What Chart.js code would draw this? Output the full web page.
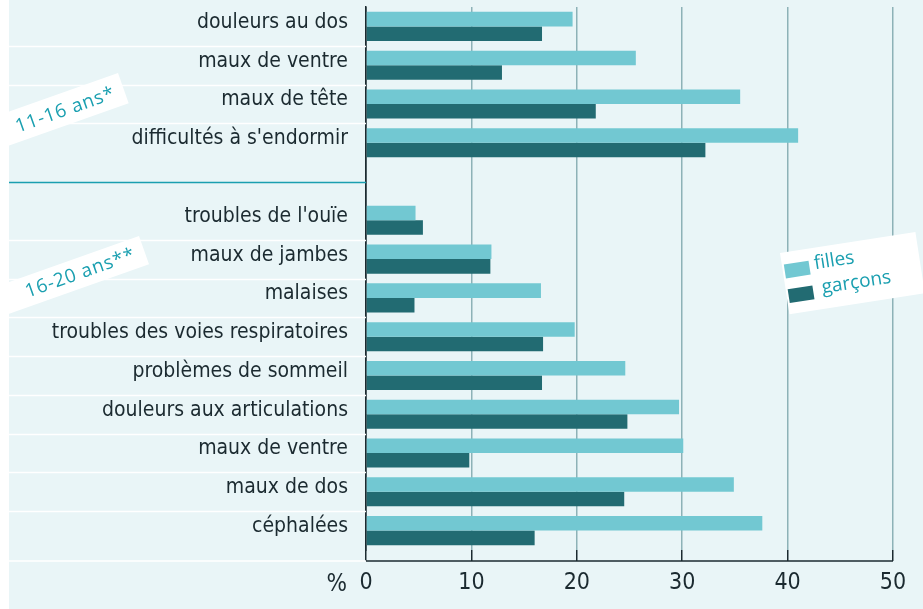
<!DOCTYPE html>
<html lang="fr">
<head>
<meta charset="utf-8">
<script src="https://cdn.jsdelivr.net/npm/chart.js@4/dist/chart.umd.min.js"></script>
<style>
  html, body { margin: 0; padding: 0; background: #fff; }
</style>
</head>
<body>
<canvas id="chart" width="923" height="609"></canvas>
<script>
// catégories de haut en bas ('' = espace entre les deux groupes d'âge)
const categories = [
  'douleurs au dos', 'maux de ventre', 'maux de tête', "difficultés à s'endormir",
  '',
  "troubles de l'ouïe", 'maux de jambes', 'malaises', 'troubles des voies respiratoires',
  'problèmes de sommeil', 'douleurs aux articulations', 'maux de ventre', 'maux de dos', 'céphalées'
];
const filles  = [19.6, 25.6, 35.5, 41.0, null, 4.7, 11.9, 16.6, 19.8, 24.6, 29.7, 30.1, 34.9, 37.6];
const garcons = [16.7, 12.9, 21.8, 32.2, null, 5.4, 11.8, 4.6, 16.8, 16.7, 24.8, 9.8, 24.5, 16.0];
const seriesLabels = ['filles', 'garçons'];
const xTicks = [0, 10, 20, 30, 40, 50];
const groupLabels = ['11-16 ans*', '16-20 ans**'];
const unitLabel = '%';

const BG = '#e9f5f7';
const DARK = '#1b2a30';
const TEAL = '#1a9fb0';
const LABEL_FONT = "'DejaVu Sans Condensed', 'DejaVu Sans', sans-serif";
const AXIS_DROP = 11;

// fond bleuté + lignes de séparation dans la zone des libellés
const decor = {
  id: 'decor',
  beforeDraw(chart) {
    const ctx = chart.ctx;
    ctx.save();
    ctx.fillStyle = BG;
    ctx.fillRect(9, 0, chart.width - 9, chart.height);
    ctx.restore();
  },
  afterDraw(chart) {
    const ctx = chart.ctx;
    const y = chart.scales.y, x = chart.scales.x;
    const area = chart.chartArea;
    const axisY = area.bottom + AXIS_DROP;
    ctx.save();

    // lignes blanches entre les catégories
    ctx.strokeStyle = '#ffffff';
    ctx.lineWidth = 1.5;
    for (let i = 0; i < categories.length - 1; i++) {
      if (!categories[i] || !categories[i + 1]) continue;
      const py = Math.round((y.getPixelForValue(i) + y.getPixelForValue(i + 1)) / 2) + 0.5;
      ctx.beginPath(); ctx.moveTo(9, py); ctx.lineTo(area.left, py); ctx.stroke();
    }
    ctx.beginPath(); ctx.moveTo(9, axisY); ctx.lineTo(area.left, axisY); ctx.stroke();

    // séparation des groupes d'âge
    const gap = categories.indexOf('');
    const gy = Math.round(y.getPixelForValue(gap)) + 0.5;
    ctx.strokeStyle = TEAL;
    ctx.beginPath(); ctx.moveTo(9, gy); ctx.lineTo(area.left, gy); ctx.stroke();

    // axe horizontal
    ctx.strokeStyle = DARK;
    ctx.lineWidth = 1.5;
    ctx.beginPath();
    ctx.moveTo(area.left, axisY);
    ctx.lineTo(x.getPixelForValue(xTicks[xTicks.length - 1]), axisY);
    ctx.stroke();

    // unité
    ctx.fillStyle = DARK;
    ctx.font = '24px ' + LABEL_FONT;
    ctx.textAlign = 'right';
    ctx.textBaseline = 'middle';
    ctx.fillText(unitLabel, area.left - 19, axisY + 24);

    // étiquettes des groupes, inclinées
    const tags = [
      { cx: 118, cy: 73, h: 32, ang: -19.5 },
      { cx: 139, cy: 236, h: 30, ang: -19.5 }
    ];
    groupLabels.forEach((txt, i) => {
      const t = tags[i];
      ctx.save();
      ctx.translate(t.cx, t.cy);
      ctx.rotate(t.ang * Math.PI / 180);
      ctx.fillStyle = '#ffffff';
      ctx.fillRect(-170, 0, 170, t.h);
      ctx.fillStyle = TEAL;
      ctx.font = "500 19px 'Open Sans', sans-serif";
      ctx.letterSpacing = '0.8px';
      ctx.textAlign = 'right';
      ctx.textBaseline = 'alphabetic';
      ctx.fillText(txt, -10, t.h - 9);
      ctx.restore();
    });

    // légende inclinée
    ctx.save();
    ctx.translate(780, 253);
    ctx.rotate(-8.8 * Math.PI / 180);
    ctx.fillStyle = '#ffffff';
    ctx.fillRect(0, 0, 137, 62);
    chart.data.datasets.forEach((ds, i) => {
      const sy = 12 + i * 25;
      ctx.fillStyle = ds.backgroundColor;
      ctx.fillRect(2, sy, 25, 14);
      ctx.fillStyle = TEAL;
      ctx.font = "19px 'Open Sans', sans-serif";
      ctx.textAlign = 'left';
      ctx.textBaseline = 'middle';
      ctx.fillText(ds.label, 32 + i * 4, sy + 4);
    });
    ctx.restore();

    ctx.restore();
  }
};

new Chart(document.getElementById('chart'), {
  type: 'bar',
  data: {
    labels: categories,
    datasets: [
      { label: seriesLabels[0], data: filles, backgroundColor: '#72c8d2' },
      { label: seriesLabels[1], data: garcons, backgroundColor: '#226b72' }
    ]
  },
  options: {
    indexAxis: 'y',
    responsive: false,
    animation: false,
    devicePixelRatio: 1,
    layout: { padding: { top: 7, right: 30, left: 0, bottom: 0 } },
    datasets: { bar: { categoryPercentage: 0.75, barPercentage: 1.0 } },
    plugins: { legend: { display: false }, tooltip: { enabled: false } },
    scales: {
      x: {
        min: 0,
        max: 50,
        afterBuildTicks: s => { s.ticks = xTicks.map(v => ({ value: v })); },
        afterFit: s => { s.height = 59; s.paddingLeft = 0; s.paddingRight = 0; },
        grid: {
          color: c => (c.tick && c.tick.value === 0 ? DARK : '#8db2b7'),
          lineWidth: 1.5,
          tickColor: DARK,
          tickLength: AXIS_DROP
        },
        border: { display: false },
        ticks: { color: DARK, font: { family: LABEL_FONT, size: 23 }, padding: 8, maxRotation: 0 }
      },
      y: {
        afterFit: s => { s.width = 366; s.paddingTop = 0; s.paddingBottom = 0; },
        grid: { display: false, drawTicks: false },
        border: { display: true, color: DARK, width: 1.5 },
        ticks: { color: DARK, font: { family: LABEL_FONT, size: 21 }, padding: 18, labelOffset: -4, autoSkip: false }
      }
    }
  },
  plugins: [decor]
});
</script>
</body>
</html>
